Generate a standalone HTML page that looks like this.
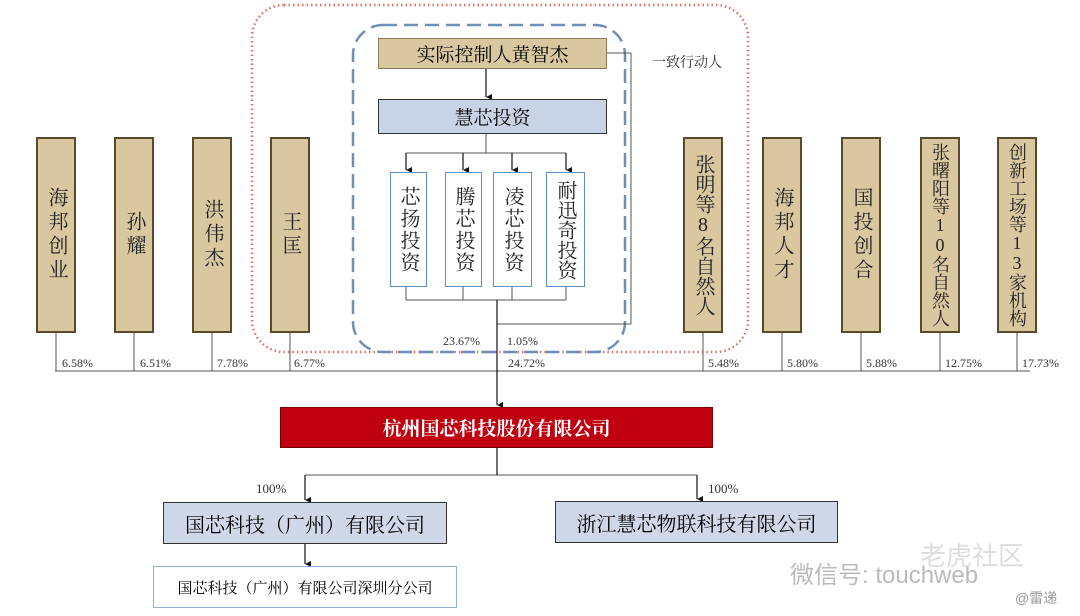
<!DOCTYPE html><html><head><meta charset="utf-8"><style>
body{margin:0;width:1080px;height:616px;background:#fff;overflow:hidden;position:relative;font-family:"Liberation Serif","Noto Serif CJK SC",serif;}
.b{position:absolute;box-sizing:border-box;display:flex;align-items:center;justify-content:center;text-align:center;}
.v{background:#d9c7a0;border:2px solid #5a4a2a;font-size:20px;line-height:24px;width:40px;writing-mode:vertical-rl;text-orientation:upright;letter-spacing:4px;color:#222;}
.s{background:#fff;border:1.5px solid #5b8fc7;font-size:20px;writing-mode:vertical-rl;letter-spacing:2px;color:#222;}
.p{position:absolute;font-size:12px;color:#333;}
</style></head><body>
<svg width="1080" height="616" style="position:absolute;left:0;top:0">
<defs><marker id="a" markerWidth="8" markerHeight="8" refX="4" refY="6" orient="auto" markerUnits="userSpaceOnUse"><path d="M0,0 L8,0 L4,8z" transform="translate(0,-2)" fill="#111"/></marker></defs>
<rect x="252" y="5" width="496" height="347" rx="32" fill="none" stroke="#e07060" stroke-width="2.5" stroke-dasharray="1.5,3"/>
<rect x="353" y="25" width="272" height="327" rx="30" fill="none" stroke="#6f8fb8" stroke-width="2.5" stroke-dasharray="14,7"/>
<g stroke="#555" stroke-width="1" fill="none">
<line x1="55" y1="371" x2="1030" y2="371"/>
<line x1="56" y1="333" x2="56" y2="371"/><line x1="134" y1="333" x2="134" y2="371"/><line x1="212" y1="333" x2="212" y2="371"/><line x1="290" y1="333" x2="290" y2="371"/>
<line x1="703" y1="333" x2="703" y2="371"/><line x1="782" y1="333" x2="782" y2="371"/><line x1="861" y1="333" x2="861" y2="371"/><line x1="940" y1="333" x2="940" y2="371"/><line x1="1017" y1="333" x2="1017" y2="371"/>
<line x1="607" y1="53" x2="631" y2="53"/><line x1="631" y1="53" x2="631" y2="324"/><line x1="631" y1="324" x2="497" y2="324"/>
<line x1="406" y1="153" x2="566" y2="153"/><line x1="486" y1="134" x2="486" y2="153"/>
<line x1="406" y1="287" x2="406" y2="300"/><line x1="463" y1="287" x2="463" y2="300"/><line x1="512" y1="287" x2="512" y2="300"/><line x1="566" y1="287" x2="566" y2="300"/>
<line x1="406" y1="300" x2="566" y2="300"/>
<line x1="305" y1="475" x2="697" y2="475"/>
</g>
<g stroke="#111" stroke-width="1.2" fill="none">
<line x1="486" y1="69" x2="486" y2="97" marker-end="url(#a)"/>
<line x1="406" y1="153" x2="406" y2="170" marker-end="url(#a)"/><line x1="463" y1="153" x2="463" y2="170" marker-end="url(#a)"/><line x1="512" y1="153" x2="512" y2="170" marker-end="url(#a)"/><line x1="566" y1="153" x2="566" y2="170" marker-end="url(#a)"/>
<line x1="497" y1="300" x2="497" y2="405" marker-end="url(#a)"/>
<line x1="497" y1="448" x2="497" y2="475"/>
<line x1="305" y1="475" x2="305" y2="500" marker-end="url(#a)"/><line x1="697" y1="475" x2="697" y2="499" marker-end="url(#a)"/>
<line x1="305" y1="544" x2="305" y2="564" marker-end="url(#a)"/>
</g></svg>
<div class="b v" style="left:36px;top:137px;height:196px">海邦创业</div>
<div class="b v" style="left:114px;top:137px;height:196px">孙耀</div>
<div class="b v" style="left:192px;top:137px;height:196px">洪伟杰</div>
<div class="b v" style="left:270px;top:137px;height:196px">王匡</div>
<div class="b v" style="left:683px;top:137px;height:196px;letter-spacing:0">张明等8名自然人</div>
<div class="b v" style="left:762px;top:137px;height:196px">海邦人才</div>
<div class="b v" style="left:841px;top:137px;height:196px">国投创合</div>
<div class="b v" style="left:920px;top:137px;height:196px;letter-spacing:0;font-size:18px;line-height:20px">张曙阳等10名自然人</div>
<div class="b v" style="left:997px;top:137px;height:196px;letter-spacing:0;font-size:18px;line-height:20px">创新工场等13家机构</div>
<div class="b" style="left:378px;top:38px;width:229px;height:31px;background:#d9c7a0;border:1px solid #8a7a5a;font-size:19px">实际控制人黄智杰</div>
<div class="b" style="left:378px;top:99px;width:229px;height:35px;background:#c9d3e6;border:1.5px solid #333;font-size:19px">慧芯投资</div>
<div class="b s" style="left:390px;top:172px;width:37px;height:115px">芯扬投资</div>
<div class="b s" style="left:445px;top:172px;width:37px;height:115px">腾芯投资</div>
<div class="b s" style="left:493px;top:172px;width:39px;height:115px">凌芯投资</div>
<div class="b s" style="left:546px;top:172px;width:39px;height:115px;letter-spacing:0">耐迅奇投资</div>
<div class="p" style="left:652px;top:52px;font-size:14px">一致行动人</div>
<div class="p" style="left:443px;top:334px">23.67%</div><div class="p" style="left:507px;top:334px">1.05%</div>
<div class="p" style="left:62px;top:356px">6.58%</div><div class="p" style="left:140px;top:356px">6.51%</div><div class="p" style="left:217px;top:356px">7.78%</div><div class="p" style="left:294px;top:356px">6.77%</div>
<div class="p" style="left:508px;top:356px">24.72%</div>
<div class="p" style="left:708px;top:356px">5.48%</div><div class="p" style="left:787px;top:356px">5.80%</div><div class="p" style="left:866px;top:356px">5.88%</div><div class="p" style="left:945px;top:356px">12.75%</div><div class="p" style="left:1022px;top:356px">17.73%</div>
<div class="b" style="left:280px;top:407px;width:433px;height:41px;background:#c00010;border:1px solid #700;color:#fff;font-size:19px;font-weight:bold">杭州国芯科技股份有限公司</div>
<div class="p" style="left:256px;top:481px;font-size:13px">100%</div><div class="p" style="left:708px;top:481px;font-size:13px">100%</div>
<div class="b" style="left:163px;top:502px;width:284px;height:42px;background:#cfd8e8;border:1.5px solid #333;font-size:20px">国芯科技（广州）有限公司</div>
<div class="b" style="left:555px;top:501px;width:283px;height:42px;background:#cfd8e8;border:1.5px solid #333;font-size:20px">浙江慧芯物联科技有限公司</div>
<div class="b" style="left:153px;top:566px;width:304px;height:42px;background:#fff;border:1.5px solid #8fb0d8;font-size:15px">国芯科技（广州）有限公司深圳分公司</div>
<div class="p" style="left:790px;top:555px;font-size:24px;color:#bbb;font-family:'Liberation Sans','Noto Sans CJK SC',sans-serif">微信号: touchweb</div>
<div class="p" style="left:920px;top:536px;font-size:26px;color:#ddd;font-family:'Liberation Sans','Noto Sans CJK SC',sans-serif">老虎社区</div>
<div class="p" style="left:1015px;top:588px;font-size:14px;color:#999;font-family:'Liberation Sans','Noto Sans CJK SC',sans-serif">@雷递</div>
</body></html>
